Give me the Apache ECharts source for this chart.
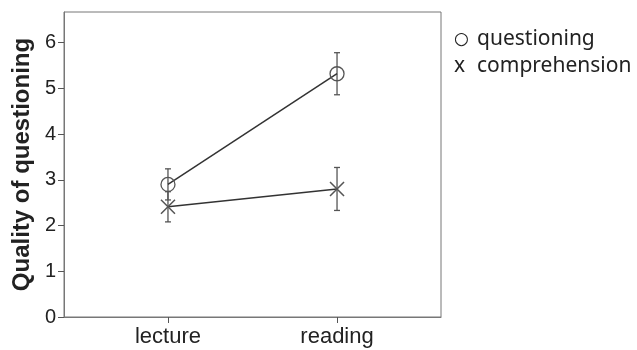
<!DOCTYPE html>
<html><head><meta charset="utf-8">
<script src="https://cdn.jsdelivr.net/npm/echarts@6/dist/echarts.min.js"></script>
<style>html,body{margin:0;padding:0;background:#fff}#c{width:637px;height:350px}</style>
</head><body><div id="c"></div>
<script>
const categories = ['lecture', 'reading'];
const yTicks = [0, 1, 2, 3, 4, 5, 6];
const questioningMean = [2.90, 5.32];
const questioningErr = [0.34, 0.46];
const comprehensionMean = [2.41, 2.80];
const comprehensionErr = [0.33, 0.47];
const legendSymbols = { questioning: '{c|\u25CB}', comprehension: '{x|x}' };

const chart = echarts.init(document.getElementById('c'));
const xPos = categories.map((c, i) => i);
function errData(mean, err) {
  return mean.map((m, i) => [i, m - err[i], m + err[i]]);
}
function errSeries(name, mean, err) {
  return {
    type: 'custom', name: name + ' err', silent: true, z: 1,
    data: errData(mean, err),
    renderItem: function (params, api) {
      const x = api.value(0);
      const lo = api.coord([x, api.value(1)]);
      const hi = api.coord([x, api.value(2)]);
      const w = 3;
      const st = { stroke: '#555', lineWidth: 1.3 };
      return { type: 'group', children: [
        { type: 'line', shape: { x1: lo[0], y1: lo[1], x2: hi[0], y2: hi[1] }, style: st },
        { type: 'line', shape: { x1: lo[0] - w, y1: lo[1], x2: lo[0] + w, y2: lo[1] }, style: st },
        { type: 'line', shape: { x1: hi[0] - w, y1: hi[1], x2: hi[0] + w, y2: hi[1] }, style: st }
      ]};
    }
  };
}
const xPath = 'path://M0,0L10,10M10,0L0,10';
chart.setOption({
  animation: false,
  grid: { left: 64, right: 196, top: 12, bottom: 33, show: true, borderColor: '#777', borderWidth: 1 },
  legend: {
    orient: 'vertical', left: 449, top: 26, itemGap: 0, padding: 0,
    icon: 'none', itemWidth: 0, itemHeight: 0,
    data: ['questioning', 'comprehension'],
    formatter: function (n) { return legendSymbols[n] + '{t|' + n + '}'; },
    textStyle: {
      fontFamily: 'Noto Sans', fontSize: 21, color: '#222', lineHeight: 27,
      rich: {
        c: { width: 23, fontSize: 17, fontFamily: 'DejaVu Sans', color: '#222', lineHeight: 27 },
        x: { width: 23, fontSize: 21, fontFamily: 'Noto Sans', color: '#222', lineHeight: 27 },
        t: { fontSize: 21, fontFamily: 'Noto Sans', color: '#222', lineHeight: 27 }
      }
    }
  },
  xAxis: {
    type: 'value', min: -0.615, max: 1.615,
    splitLine: { show: false },
    axisLine: { onZero: false, lineStyle: { color: '#777' } },
    axisTick: { customValues: xPos, length: 6, lineStyle: { color: '#555' } },
    axisLabel: { customValues: xPos, formatter: v => categories[Math.round(v)], fontFamily: 'Liberation Sans', fontSize: 22, color: '#222', margin: 9 }
  },
  yAxis: {
    type: 'value', min: 0, max: 6.67,
    name: 'Quality of questioning', nameLocation: 'middle', nameGap: 29,
    nameTextStyle: { fontFamily: 'Liberation Sans', fontWeight: 'bold', fontSize: 24, color: '#222' },
    splitLine: { show: false },
    axisLine: { show: true, onZero: false, lineStyle: { color: '#777' } },
    axisTick: { show: true, inside: false, customValues: yTicks, length: 6, lineStyle: { color: '#555' } },
    axisLabel: { customValues: yTicks, fontFamily: 'Liberation Sans', fontSize: 20, color: '#222', margin: 8 }
  },
  series: [
    errSeries('questioning', questioningMean, questioningErr),
    errSeries('comprehension', comprehensionMean, comprehensionErr),
    {
      name: 'questioning', type: 'line', z: 3,
      data: questioningMean.map((v, i) => [i, v]),
      symbol: 'circle', symbolSize: 14,
      lineStyle: { color: '#333', width: 1.5 },
      itemStyle: { color: 'rgba(255,255,255,0)', borderColor: '#555', borderWidth: 1.3 }
    },
    {
      name: 'comprehension', type: 'line', z: 3,
      data: comprehensionMean.map((v, i) => [i, v]),
      symbol: xPath, symbolSize: 14,
      lineStyle: { color: '#333', width: 1.5 },
      itemStyle: { color: 'rgba(255,255,255,0)', borderColor: '#555', borderWidth: 1.5 }
    }
  ]
});
</script></body></html>
